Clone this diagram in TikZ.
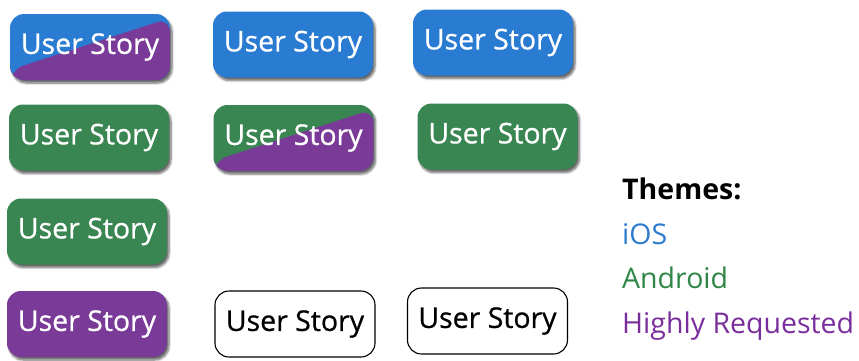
\documentclass[tikz,border=0pt]{standalone}
\usepackage{fontspec}
\setmainfont{Open Sans}
\newfontfamily\storyfont{Open Sans}[RawFeature={embolden=0.7}]
\usetikzlibrary{shadows.blur}
\definecolor{iosblue}{HTML}{2A7BD2}
\definecolor{droidgreen}{HTML}{3A8653}
\definecolor{hrpurple}{HTML}{7A3A98}
\definecolor{iostext}{HTML}{2E7BD0}
\definecolor{droidtext}{HTML}{2E8545}
\definecolor{hrtext}{HTML}{7A2E9C}
\tikzset{
  story/.style={rounded corners=14pt, minimum width=160pt, minimum height=66pt,
    inner sep=0pt, font=\storyfont\fontsize{28.5}{30}\selectfont},
  storyfill/.style={story, fill=#1, text=white,
    blur shadow={shadow xshift=2pt, shadow yshift=-3pt, shadow blur steps=6, shadow opacity=60}},
  storyplain/.style={story, draw=black, line width=1.1pt, fill=white, text=black},
  split/.style={storyfill=#1, path picture={
      \fill[hrpurple] ([yshift=10pt]path picture bounding box.south west)
        -- ([yshift=-4pt]path picture bounding box.north east)
        -- (path picture bounding box.south east)
        -- (path picture bounding box.south west) -- cycle;}},
  legend/.style={anchor=base west, inner sep=0pt, font=\fontsize{28.5}{30}\selectfont},
}
\begin{document}
\begin{tikzpicture}[x=1pt, y=-1pt]
  \useasboundingbox (0,0) rectangle (859,360);
  % first row
  \node[split=iosblue]      (s11) at (90,47)    {User Story};
  \node[storyfill=iosblue]  (s12) at (293,44.5) {User Story};
  \node[storyfill=iosblue]  (s13) at (493,42.5) {User Story};
  % second row
  \node[storyfill=droidgreen] (s21) at (89,137.5)  {User Story};
  \node[split=droidgreen]     (s22) at (293.5,138) {User Story};
  \node[storyfill=droidgreen] (s23) at (497.5,136.5) {User Story};
  % third row
  \node[storyfill=droidgreen] (s31) at (87,231.5) {User Story};
  % fourth row
  \node[storyfill=hrpurple] (s41) at (87,324) {User Story};
  \node[storyplain]         (s42) at (295,324) {User Story};
  \node[storyplain]         (s43) at (487.5,321) {User Story};
  % legend
  \node[legend, font=\fontsize{28.5}{30}\selectfont\bfseries] (lt) at (622,199) {Themes:};
  \node[legend, text=iostext]   (li) at (622,244) {iOS};
  \node[legend, text=droidtext] (la) at (622,288) {Android};
  \node[legend, text=hrtext]    (lh) at (622,333) {Highly Requested};
\end{tikzpicture}
\end{document}
